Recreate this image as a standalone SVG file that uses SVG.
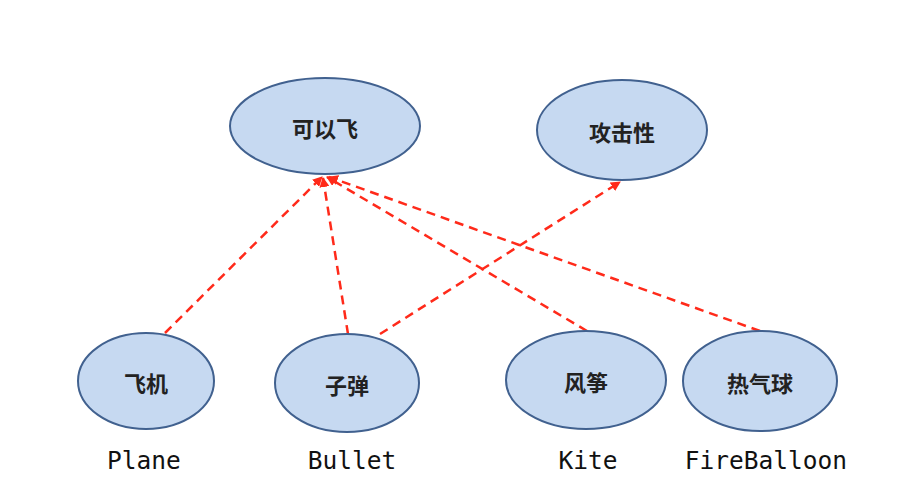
<svg xmlns="http://www.w3.org/2000/svg" width="923" height="503" viewBox="0 0 923 503">
<style>
.node ellipse{fill:#c6d9f1;stroke:#41618f;stroke-width:2}
.node text{font-family:"Noto Sans CJK SC","Noto Sans CJK JP",sans-serif;font-size:22px;font-weight:bold;fill:#222;text-anchor:middle;dominant-baseline:central}
.lbl{font-family:"DejaVu Sans Mono","Liberation Mono",monospace;font-size:24.5px;fill:#111;text-anchor:middle}
.conn line{stroke:#ff2a1a;stroke-width:2.5;stroke-dasharray:9 6;fill:none}
</style>
<defs>
<marker id="ah" viewBox="0 0 10 10" refX="9" refY="5" markerWidth="4" markerHeight="4" orient="auto" markerUnits="strokeWidth">
<path d="M0,0 L10,5 L0,10 z" fill="#ff2a1a"/>
</marker>
</defs>
<rect width="923" height="503" fill="#fff"/>
<g class="conn">
<line x1="165" y1="333" x2="322" y2="177" marker-end="url(#ah)"/>
<line x1="348" y1="334" x2="323" y2="178" marker-end="url(#ah)"/>
<line x1="380" y1="334" x2="620" y2="182" marker-end="url(#ah)"/>
<line x1="587" y1="331" x2="327" y2="177" marker-end="url(#ah)"/>
<line x1="760" y1="331" x2="329" y2="177" marker-end="url(#ah)"/>
</g>
<g id="canfly" class="node"><ellipse cx="325" cy="126" rx="95" ry="48"/><text x="325" y="127">可以飞</text></g>
<g id="attack" class="node"><ellipse cx="622" cy="130" rx="85" ry="50"/><text x="622" y="131">攻击性</text></g>
<g id="plane" class="node"><ellipse cx="146" cy="381" rx="68" ry="48"/><text x="146" y="382">飞机</text></g>
<g id="bullet" class="node"><ellipse cx="347" cy="383" rx="72" ry="49"/><text x="347" y="384">子弹</text></g>
<g id="kite" class="node"><ellipse cx="586" cy="380" rx="80" ry="49"/><text x="586" y="381">风筝</text></g>
<g id="balloon" class="node"><ellipse cx="760" cy="381" rx="77" ry="50"/><text x="760" y="382">热气球</text></g>
<text class="lbl" x="144" y="469">Plane</text>
<text class="lbl" x="352" y="469">Bullet</text>
<text class="lbl" x="588" y="469">Kite</text>
<text class="lbl" x="766" y="469">FireBalloon</text>
</svg>
